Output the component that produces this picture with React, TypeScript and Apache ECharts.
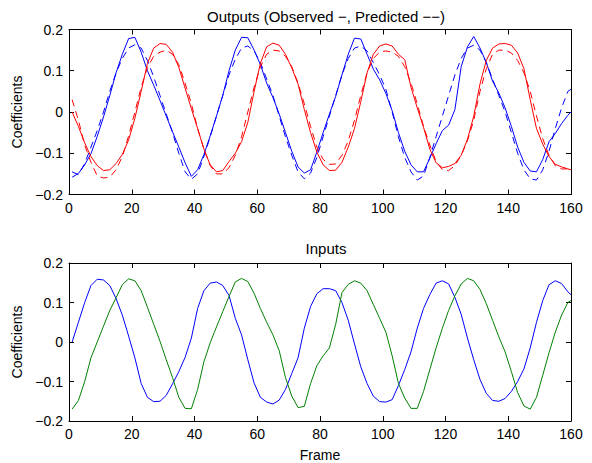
import React, { useEffect, useRef } from "react";
import * as echarts from "echarts";

// Frame numbers (sample grid)
const frames: number[] = [
  1, 3, 5, 7, 9, 11, 13, 15, 17, 19, 21, 23, 25, 27, 29, 31, 33, 35, 37, 39,
  41, 43, 45, 47, 49, 51, 53, 55, 57, 59, 61, 63, 65, 67, 69, 71, 73, 75, 77, 79,
  81, 83, 85, 87, 89, 91, 93, 95, 97, 99, 101, 103, 105, 107, 109, 111, 113, 115, 117, 119,
  121, 123, 125, 127, 129, 131, 133, 135, 137, 139, 141, 143, 145, 147, 149, 151, 153, 155, 157, 159,
  160,
];

const xTicks = { min: 0, max: 160, interval: 20 };
const yTicks = { min: -0.2, max: 0.2, interval: 0.1 };

// Outputs: observed (solid) and predicted (dashed)
const outBlueObserved = [
  -0.158, -0.149, -0.128, -0.101, -0.059, -0.012, 0.04, 0.095, 0.14, 0.178,
  0.181, 0.145, 0.1, 0.065, 0.028, -0.01, -0.048, -0.085, -0.123, -0.156,
  -0.14, -0.103, -0.058, -0.01, 0.04, 0.1, 0.15, 0.181, 0.18, 0.15,
  0.115, 0.07, 0.035, -0.005, -0.05, -0.095, -0.133, -0.148, -0.14, -0.097,
  -0.05, -0.005, 0.038, 0.09, 0.14, 0.179, 0.177, 0.14, 0.104, 0.078,
  0.045, 0.003, -0.05, -0.095, -0.128, -0.145, -0.145, -0.112, -0.077, -0.045,
  -0.032, 0.006, 0.11, 0.158, 0.183, 0.155, 0.12, 0.075, 0.046, 0.01,
  -0.035, -0.085, -0.122, -0.143, -0.145, -0.115, -0.072, -0.052, -0.028, -0.008,
  0.0,
];
const outBluePredicted = [
  -0.145, -0.152, -0.125, -0.085, -0.045, 0.0, 0.05, 0.095, 0.13, 0.155,
  0.163, 0.155, 0.125, 0.085, 0.04, -0.005, -0.05, -0.1, -0.145, -0.163,
  -0.15, -0.108, -0.06, -0.01, 0.04, 0.09, 0.128, 0.155, 0.16, 0.148,
  0.12, 0.08, 0.04, -0.01, -0.06, -0.105, -0.145, -0.162, -0.148, -0.11,
  -0.06, -0.01, 0.04, 0.09, 0.13, 0.155, 0.16, 0.148, 0.12, 0.09,
  0.055, 0.0, -0.06, -0.11, -0.145, -0.165, -0.155, -0.11, -0.06, -0.01,
  0.04, 0.09, 0.13, 0.155, 0.162, 0.15, 0.12, 0.08, 0.04, 0.0,
  -0.05, -0.1, -0.14, -0.162, -0.165, -0.14, -0.095, -0.04, 0.01, 0.05,
  0.055,
];
const outRedObserved = [
  0.0, -0.035, -0.075, -0.108, -0.13, -0.142, -0.14, -0.125, -0.103, -0.068,
  -0.015, 0.05, 0.118, 0.155, 0.166, 0.164, 0.145, 0.108, 0.058, 0.008,
  -0.04, -0.09, -0.128, -0.145, -0.142, -0.12, -0.1, -0.072, -0.025, 0.05,
  0.118, 0.158, 0.167, 0.162, 0.14, 0.107, 0.068, 0.006, -0.05, -0.097,
  -0.128, -0.142, -0.141, -0.122, -0.085, -0.04, 0.025, 0.095, 0.14, 0.16,
  0.165, 0.16, 0.14, 0.127, 0.06, 0.01, -0.037, -0.09, -0.123, -0.135,
  -0.132, -0.125, -0.105, -0.066, -0.01, 0.068, 0.125, 0.155, 0.165, 0.166,
  0.162, 0.143, 0.105, 0.03, -0.04, -0.078, -0.108, -0.127, -0.133, -0.138,
  -0.14,
];
const outRedPredicted = [
  0.03, -0.02, -0.08, -0.122, -0.155, -0.16, -0.158, -0.14, -0.108, -0.058,
  0.0, 0.06, 0.108, 0.135, 0.145, 0.15, 0.14, 0.115, 0.07, 0.02,
  -0.04, -0.09, -0.13, -0.15, -0.15, -0.135, -0.105, -0.06, 0.0, 0.06,
  0.11, 0.14, 0.15, 0.148, 0.135, 0.11, 0.07, 0.02, -0.035, -0.085,
  -0.115, -0.127, -0.126, -0.105, -0.07, -0.02, 0.04, 0.095, 0.13, 0.145,
  0.148, 0.145, 0.135, 0.11, 0.07, 0.02, -0.035, -0.08, -0.12, -0.14,
  -0.142, -0.13, -0.105, -0.07, -0.02, 0.05, 0.105, 0.14, 0.15, 0.15,
  0.143, 0.125, 0.095, 0.05, -0.01, -0.065, -0.105, -0.13, -0.138, -0.138,
  -0.138,
];

// Inputs
const inBlue = [
  0.0, 0.05, 0.1, 0.143, 0.159, 0.157, 0.143, 0.11, 0.068, 0.015,
  -0.04, -0.105, -0.14, -0.151, -0.15, -0.135, -0.106, -0.075, -0.039, 0.01,
  0.085, 0.13, 0.149, 0.152, 0.143, 0.118, 0.06, 0.018, -0.045, -0.104,
  -0.14, -0.152, -0.157, -0.147, -0.12, -0.08, -0.04, 0.035, 0.09, 0.122,
  0.135, 0.135, 0.13, 0.1, 0.055, -0.005, -0.063, -0.105, -0.137, -0.151,
  -0.152, -0.146, -0.11, -0.07, -0.025, 0.035, 0.085, 0.12, 0.149, 0.155,
  0.147, 0.113, 0.07, 0.01, -0.045, -0.095, -0.13, -0.148, -0.15, -0.143,
  -0.125, -0.1, -0.068, -0.015, 0.05, 0.105, 0.145, 0.155, 0.148, 0.127,
  0.12,
];
const inGreen = [
  -0.17, -0.148, -0.1, -0.04, 0.0, 0.04, 0.08, 0.112, 0.145, 0.16,
  0.155, 0.13, 0.088, 0.045, 0.002, -0.045, -0.09, -0.14, -0.168, -0.169,
  -0.12, -0.05, -0.002, 0.038, 0.077, 0.115, 0.152, 0.161, 0.153, 0.123,
  0.085, 0.05, 0.018, -0.022, -0.09, -0.137, -0.166, -0.163, -0.105, -0.06,
  -0.035, -0.015, 0.045, 0.125, 0.146, 0.155, 0.149, 0.13, 0.095, 0.06,
  0.025, -0.035, -0.105, -0.142, -0.168, -0.168, -0.125, -0.07, -0.015, 0.035,
  0.08, 0.117, 0.147, 0.161, 0.155, 0.133, 0.097, 0.055, 0.013, -0.025,
  -0.075, -0.128, -0.162, -0.17, -0.14, -0.084, -0.027, 0.025, 0.068, 0.1,
  0.105,
];

const FONT = "'Liberation Sans', Arial, Helvetica, sans-serif";

function pairs(vals: number[]) {
  return frames.map((f, i) => [f, vals[i]]);
}

function fmtY(v: number) {
  const r = Math.round(v * 10) / 10;
  if (r === 0) return "0";
  return r < 0 ? "\u2212" + Math.abs(r).toFixed(1) : r.toFixed(1);
}

export default function App() {
  const ref = useRef<HTMLDivElement>(null);
  useEffect(() => {
    document.body.style.margin = "0";
    const chart = echarts.init(ref.current!, null, { renderer: "svg" });
    const axisLine = { show: true, onZero: false, lineStyle: { color: "#000", width: 1 } };
    const tick = { show: true, inside: true, length: 5, lineStyle: { color: "#000", width: 1 } };
    const lbl = { color: "#000", fontFamily: FONT, fontSize: 14 };

    const mkX = (gridIndex: number, position: "bottom" | "top", labels: boolean, name?: string) => ({
      type: "value",
      gridIndex,
      position,
      ...xTicks,
      axisLine,
      axisTick: tick,
      axisLabel: { show: labels, margin: 6, ...lbl },
      splitLine: { show: false },
      name: name || "",
      nameLocation: "middle",
      nameGap: 27,
      nameTextStyle: { ...lbl, fontSize: 14 },
    });
    const mkY = (gridIndex: number, position: "left" | "right", labels: boolean, name?: string) => ({
      type: "value",
      gridIndex,
      position,
      ...yTicks,
      axisLine,
      axisTick: tick,
      axisLabel: { show: labels, margin: 6, formatter: fmtY, ...lbl },
      splitLine: { show: false },
      name: name || "",
      nameLocation: "middle",
      nameGap: 41,
      nameTextStyle: { ...lbl, fontSize: 14 },
    });

    const line = (name: string, xi: number, yi: number, vals: number[], color: string, dashed: boolean) => ({
      name,
      type: "line",
      xAxisIndex: xi,
      yAxisIndex: yi,
      data: pairs(vals),
      symbol: "none",
      lineStyle: { color, width: 1, type: dashed ? [7, 5] : "solid" },
      z: 3,
    });

    chart.setOption({
      animation: false,
      backgroundColor: "#fff",
      title: [
        {
          text: "Outputs (Observed \u2212, Predicted \u2212\u2212)",
          left: 321,
          textAlign: "center",
          top: 4,
          textStyle: { color: "#000", fontFamily: FONT, fontSize: 15, fontWeight: "normal" },
        },
        {
          text: "Inputs",
          left: 321,
          textAlign: "center",
          top: 236,
          textStyle: { color: "#000", fontFamily: FONT, fontSize: 15, fontWeight: "normal" },
        },
      ],
      grid: [
        { left: 69, top: 29.5, width: 502, height: 165 },
        { left: 69, top: 263, width: 502, height: 162 },
      ],
      xAxis: [
        mkX(0, "bottom", true),
        mkX(0, "top", false),
        mkX(1, "bottom", true, "Frame"),
        mkX(1, "top", false),
      ],
      yAxis: [
        mkY(0, "left", true, "Coefficients"),
        mkY(0, "right", false),
        mkY(1, "left", true, "Coefficients"),
        mkY(1, "right", false),
      ],
      series: [
        line("Output 1 observed", 0, 0, outBlueObserved, "#0000ff", false),
        line("Output 1 predicted", 0, 0, outBluePredicted, "#0000ff", true),
        line("Output 2 observed", 0, 0, outRedObserved, "#ff0000", false),
        line("Output 2 predicted", 0, 0, outRedPredicted, "#ff0000", true),
        line("Input 1", 2, 2, inBlue, "#0000ff", false),
        line("Input 2", 2, 2, inGreen, "#008000", false),
      ],
    });
    return () => chart.dispose();
  }, []);
  return <div ref={ref} style={{ width: 592, height: 463 }} />;
}
